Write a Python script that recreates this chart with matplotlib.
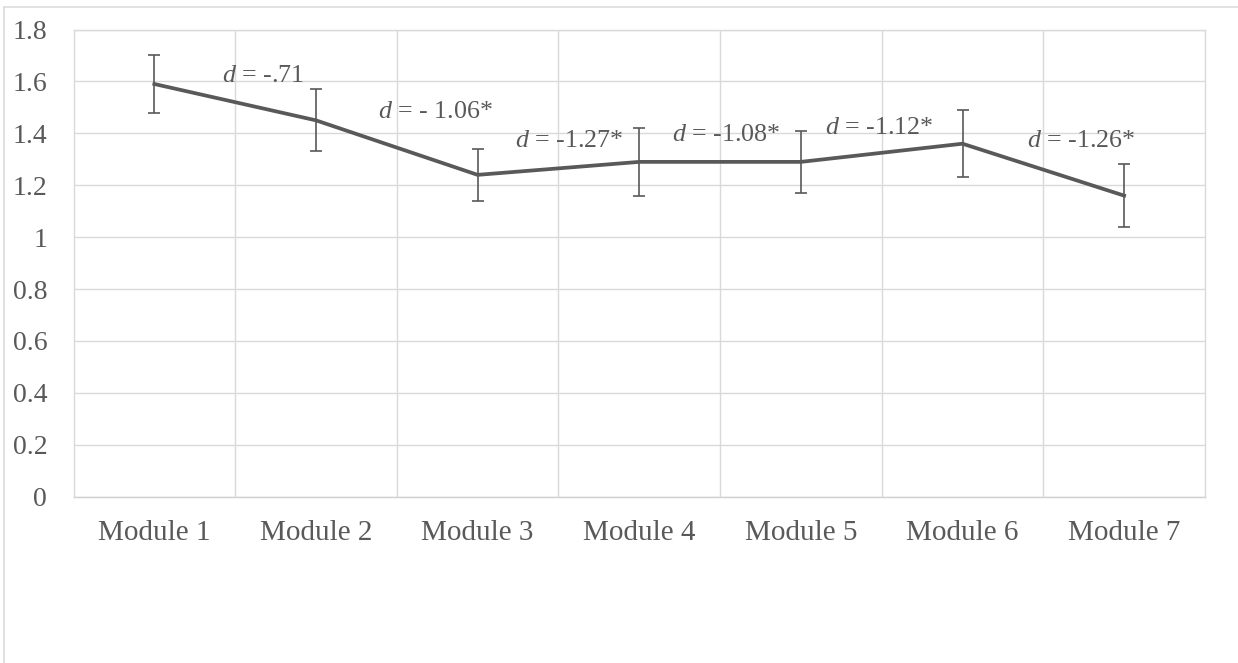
import matplotlib
matplotlib.use("Agg")
import matplotlib.pyplot as plt
import numpy as np

plt.rcParams['font.family'] = ['Liberation Serif', 'DejaVu Serif']
plt.rcParams['mathtext.fontset'] = 'custom'
plt.rcParams['mathtext.rm'] = 'Liberation Serif'
plt.rcParams['mathtext.it'] = 'Liberation Serif:italic'

TEXT = '#595959'
GRID = '#d9d9d9'

modules = ['Module 1', 'Module 2', 'Module 3', 'Module 4', 'Module 5', 'Module 6', 'Module 7']
means = [1.59, 1.45, 1.24, 1.29, 1.29, 1.36, 1.16]
errors = [0.11, 0.12, 0.10, 0.13, 0.12, 0.13, 0.12]

# effect sizes between consecutive modules
d_labels = ['-.71', '- 1.06*', '-1.27*', '-1.08*', '-1.12*', '-1.26*']
d_x = [0.675, 1.737, 2.569, 3.541, 4.485, 5.734]
d_y = [1.599, 1.459, 1.348, 1.371, 1.398, 1.348]

yticks = [0, 0.2, 0.4, 0.6, 0.8, 1, 1.2, 1.4, 1.6, 1.8]
ytick_labels = ['0', '0.2', '0.4', '0.6', '0.8', '1', '1.2', '1.4', '1.6', '1.8']

fig = plt.figure(figsize=(12.38, 6.63), dpi=100)
ax = fig.add_axes([0.0594, 0.2508, 0.9139, 0.7047])

x = np.arange(len(modules))
ax.errorbar(x, means, yerr=errors, color=TEXT, lw=2.7, ecolor=TEXT,
            elinewidth=1.2, capsize=4.3, capthick=1.2, zorder=3)

for lx, ly, lab in zip(d_x, d_y, d_labels):
    ax.text(lx, ly, r'$d$ = ' + lab, ha='center', va='baseline',
            fontsize=18.7, color=TEXT, zorder=4)

ax.set_xlim(-0.5, len(modules) - 0.5)
ax.set_ylim(0, 1.8)
ax.set_yticks(yticks)
ax.set_yticklabels(ytick_labels)
ax.set_xticks(x)
ax.set_xticklabels(modules)

# category borders as vertical gridlines
ax.set_xticks(np.arange(0.5, len(modules) - 1, 1), minor=True)
ax.grid(which='minor', axis='x', color=GRID, lw=1.0)
ax.grid(which='major', axis='y', color=GRID, lw=1.0)
ax.set_axisbelow(True)

ax.tick_params(axis='both', which='both', length=0, colors=TEXT)
ax.tick_params(axis='y', labelsize=20, pad=19)
ax.tick_params(axis='x', labelsize=21, pad=17)

for side in ['left', 'right', 'top', 'bottom']:
    ax.spines[side].set_color(GRID)
    ax.spines[side].set_linewidth(1.0)
ax.spines['bottom'].set_color('#d0d0d0')

# chart area border
fig.add_artist(plt.Line2D([4 / 1238, 1], [1 - 6.5 / 663, 1 - 6.5 / 663],
                          color=GRID, lw=1.1, transform=fig.transFigure))
fig.add_artist(plt.Line2D([4 / 1238, 4 / 1238], [0, 1 - 6.5 / 663],
                          color=GRID, lw=1.1, transform=fig.transFigure))

fig.savefig('out.png', dpi=100)
